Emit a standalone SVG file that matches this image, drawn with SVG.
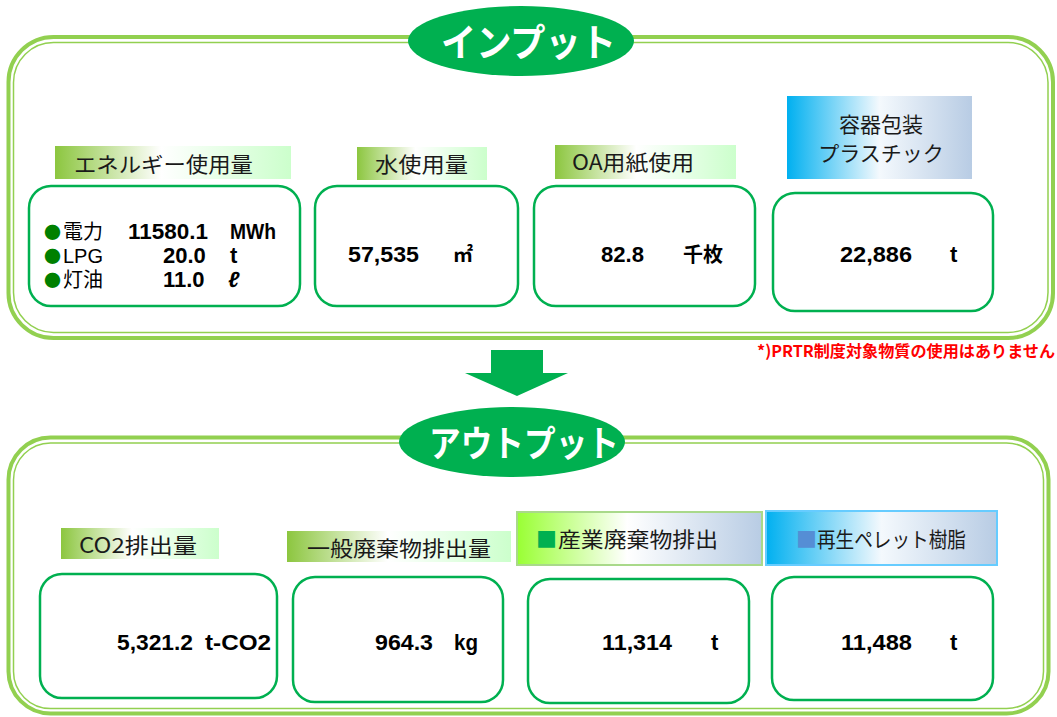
<svg xmlns="http://www.w3.org/2000/svg" width="1057" height="717" viewBox="0 0 1057 717">
<defs>
<linearGradient id="gGreen" x1="0" y1="0" x2="1" y2="0">
<stop offset="0" stop-color="#8cc63f"/>
<stop offset="0.45" stop-color="#ffffff"/>
<stop offset="1" stop-color="#ccffcc"/>
</linearGradient>
<linearGradient id="gBlue" x1="0" y1="0" x2="1" y2="0">
<stop offset="0" stop-color="#00b0f0"/>
<stop offset="0.5" stop-color="#f4f9fd"/>
<stop offset="1" stop-color="#b8cce4"/>
</linearGradient>
<linearGradient id="gLime" x1="0" y1="0" x2="1" y2="0">
<stop offset="0" stop-color="#99ff33"/>
<stop offset="0.45" stop-color="#ffffff"/>
<stop offset="1" stop-color="#b8cce4"/>
</linearGradient>
<style>
.frameO{fill:none;stroke:#92d050;stroke-width:4}
.frameI{fill:none;stroke:#92d050;stroke-width:1.5}
.val{fill:#ffffff;stroke:#00b050;stroke-width:2.5}
.ell{fill:#00b050}
.title{font-family:"Noto Sans CJK JP",sans-serif;font-weight:bold;fill:#ffffff}
.lbl{font-family:"Noto Sans CJK JP",sans-serif;font-size:21px;fill:#1a1a1a}
.num{font-family:"Liberation Sans","Noto Sans CJK JP",sans-serif;font-weight:bold;font-size:22px;fill:#000000}
.unit{font-family:"Noto Sans CJK JP",sans-serif;font-weight:bold;font-size:20px;fill:#000000}
.reg{font-family:"Liberation Sans","Noto Sans CJK JP",sans-serif;font-size:20px;fill:#000000}
.dot{font-family:"Noto Sans CJK JP",sans-serif;font-size:17px;fill:#008000}
.note{font-family:"Noto Sans CJK JP",sans-serif;font-weight:bold;font-size:16px;fill:#ff0000}
</style>
</defs>
<rect width="1057" height="717" fill="#ffffff"/>

<g id="input-frame">
<rect class="frameO" x="8.5" y="37" width="1044.5" height="301" rx="45"/>
<rect class="frameI" x="13.5" y="42.5" width="1034.5" height="290" rx="40"/>
<ellipse class="ell" cx="521" cy="41" rx="113" ry="35"/>
<text class="title" x="441" y="56" font-size="38" textLength="175" lengthAdjust="spacingAndGlyphs">インプット</text>
</g>

<g id="label-energy">
<rect x="55" y="146" width="236" height="33" fill="url(#gGreen)"/>
<text class="lbl" x="74" y="172" textLength="179" lengthAdjust="spacingAndGlyphs">エネルギー使用量</text>
</g>
<g id="label-water">
<rect x="357" y="147" width="130" height="33" fill="url(#gGreen)"/>
<text class="lbl" x="375" y="172" textLength="93" lengthAdjust="spacingAndGlyphs">水使用量</text>
</g>
<g id="label-paper">
<rect x="555" y="145" width="181" height="34" fill="url(#gGreen)"/>
<text class="lbl" x="572" y="170" textLength="122" lengthAdjust="spacingAndGlyphs">OA用紙使用</text>
</g>
<g id="label-plastic">
<rect x="787" y="96" width="185" height="83" fill="url(#gBlue)"/>
<text class="lbl" x="881" y="132" text-anchor="middle">容器包装</text>
<text class="lbl" x="881" y="161" text-anchor="middle">プラスチック</text>
</g>

<g id="value-energy">
<rect class="val" x="29" y="186" width="271" height="120" rx="22"/>
<text class="dot" x="44" y="238.5">●</text>
<text class="dot" x="44" y="262.5">●</text>
<text class="dot" x="44" y="286.5">●</text>
<text class="reg" x="63" y="239">電力</text>
<text class="reg" x="63" y="263">LPG</text>
<text class="reg" x="63" y="287">灯油</text>
<text class="num" x="128" y="239" textLength="80" lengthAdjust="spacingAndGlyphs">11580.1</text>
<text class="num" x="163" y="263">20.0</text>
<text class="num" x="163" y="287">11.0</text>
<text class="num" x="230" y="239" textLength="46" lengthAdjust="spacingAndGlyphs">MWh</text>
<text class="num" x="230" y="263">t</text>
<text class="num" x="228" y="287" font-style="italic">ℓ</text>
</g>
<g id="value-water">
<rect class="val" x="315" y="186" width="203" height="120" rx="22"/>
<text class="num" x="348" y="262" textLength="71" lengthAdjust="spacingAndGlyphs">57,535</text>
<text class="unit" x="453" y="262">㎡</text>
</g>
<g id="value-paper">
<rect class="val" x="534" y="186" width="221" height="120" rx="22"/>
<text class="num" x="601" y="262" textLength="43" lengthAdjust="spacingAndGlyphs">82.8</text>
<text class="unit" x="683" y="262">千枚</text>
</g>
<g id="value-plastic">
<rect class="val" x="773" y="193" width="220" height="118" rx="22"/>
<text class="num" x="840" y="262" textLength="72" lengthAdjust="spacingAndGlyphs">22,886</text>
<text class="num" x="950" y="262">t</text>
</g>

<text id="note" class="note" x="1055" y="357" text-anchor="end" textLength="298" lengthAdjust="spacingAndGlyphs">*)PRTR制度対象物質の使用はありません</text>

<g id="connectors">
<polygon points="491,350 543,350 543,373 568,373 517,396 465,373 491,373" fill="#00b050"/>
</g>

<g id="output-frame">
<rect class="frameO" x="8.5" y="437.5" width="1040" height="276" rx="42"/>
<rect class="frameI" x="13.5" y="443" width="1030" height="265.5" rx="37"/>
<ellipse class="ell" cx="512" cy="442" rx="113" ry="35"/>
<text class="title" x="429" y="457" font-size="36" textLength="190" lengthAdjust="spacingAndGlyphs">アウトプット</text>
</g>

<g id="label-co2">
<rect x="61" y="528" width="158" height="31" fill="url(#gGreen)"/>
<text class="lbl" x="79" y="553" textLength="118" lengthAdjust="spacingAndGlyphs">CO2排出量</text>
</g>
<g id="label-general-waste">
<rect x="287" y="531" width="224" height="31" fill="url(#gGreen)"/>
<text class="lbl" x="307" y="556" textLength="184" lengthAdjust="spacingAndGlyphs">一般廃棄物排出量</text>
</g>
<g id="label-industrial-waste">
<rect x="517" y="512" width="245" height="53" fill="url(#gLime)" stroke="#a9d98a" stroke-width="2"/>
<text class="lbl" x="536" y="547" style="fill:#00b050">■</text>
<text class="lbl" x="558" y="547" textLength="160" lengthAdjust="spacingAndGlyphs">産業廃棄物排出</text>
</g>
<g id="label-pellet">
<rect x="766" y="511" width="231" height="54" fill="url(#gBlue)" stroke="#66ccff" stroke-width="2"/>
<text class="lbl" x="796" y="547" style="fill:#558ed5">■</text>
<text class="lbl" x="817" y="547" textLength="149" lengthAdjust="spacingAndGlyphs">再生ペレット樹脂</text>
</g>

<g id="value-co2">
<rect class="val" x="40" y="574" width="237" height="124" rx="22"/>
<text class="num" x="117" y="650" textLength="76" lengthAdjust="spacingAndGlyphs">5,321.2</text>
<text class="num" x="205" y="650" textLength="66" lengthAdjust="spacingAndGlyphs">t-CO2</text>
</g>
<g id="value-general-waste">
<rect class="val" x="293" y="577" width="210" height="125" rx="22"/>
<text class="num" x="375" y="650" textLength="58" lengthAdjust="spacingAndGlyphs">964.3</text>
<text class="num" x="454" y="650" textLength="24" lengthAdjust="spacingAndGlyphs">kg</text>
</g>
<g id="value-industrial-waste">
<rect class="val" x="528" y="579" width="221" height="124" rx="22"/>
<text class="num" x="602" y="650" textLength="70" lengthAdjust="spacingAndGlyphs">11,314</text>
<text class="num" x="711" y="650">t</text>
</g>
<g id="value-pellet">
<rect class="val" x="772" y="577" width="221" height="123" rx="22"/>
<text class="num" x="841" y="650" textLength="71" lengthAdjust="spacingAndGlyphs">11,488</text>
<text class="num" x="950" y="650">t</text>
</g>
</svg>
